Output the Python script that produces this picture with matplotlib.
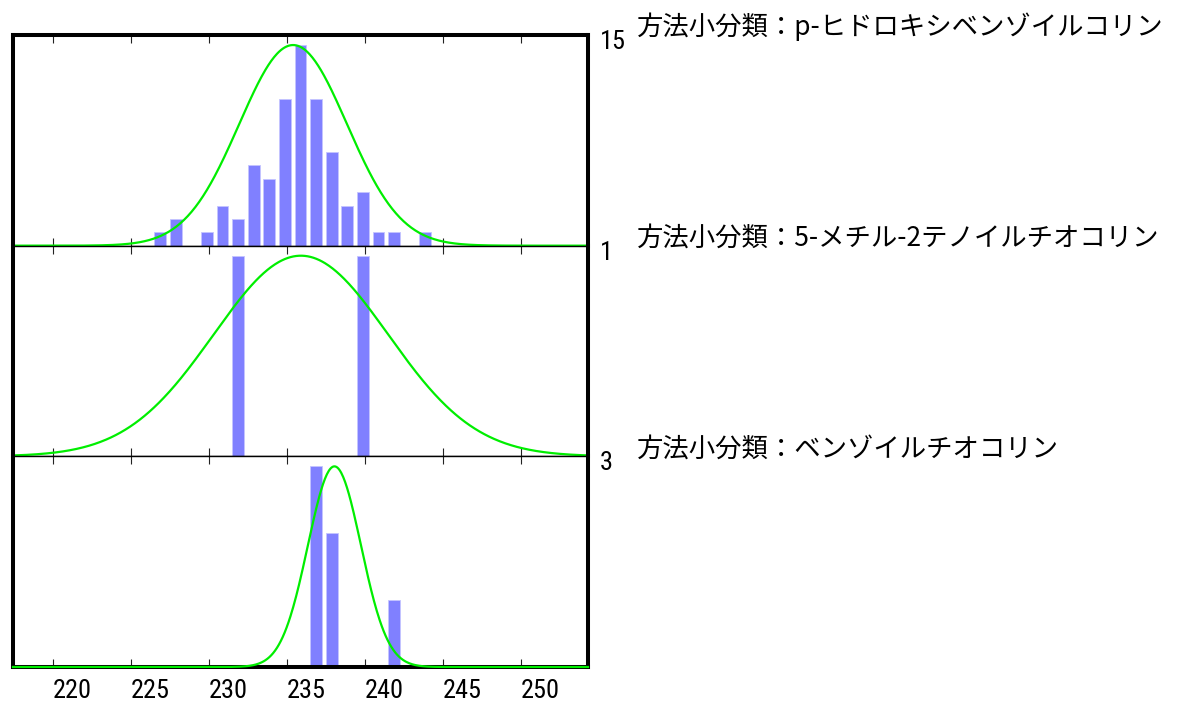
import numpy as np
import matplotlib
matplotlib.use('Agg')
from matplotlib import pyplot as plt
from matplotlib import font_manager

# panel labels (one per method)
labels = ['方法小分類：p-ヒドロキシベンゾイルコリン',
          '方法小分類：5-メチル-2テノイルチオコリン',
          '方法小分類：ベンゾイルチオコリン']

# histogram bins and counts for each panel
bins_top = [227, 228, 230, 231, 232, 233, 234, 235, 236, 237, 238, 239, 240, 241, 242, 244]
counts_top = [1, 2, 1, 3, 2, 6, 5, 11, 15, 11, 7, 3, 4, 1, 1, 1]
bins_mid = [232, 240]
counts_mid = [1, 1]
bins_bot = [237, 238, 242]
counts_bot = [3, 2, 1]

# normal curves drawn over each histogram (mean, sd), peak = max count
fit_mean = [235.4, 235.9, 238.05]
fit_sd = [3.45, 5.6, 1.7]

xticks = [220, 225, 230, 235, 240, 245, 250]
xlim = (217.45, 254.3)

# narrow font for the numbers if one is installed
installed = set(f.name for f in font_manager.fontManager.ttflist)
num_font = 'Liberation Sans'
for name in ['Liberation Sans Narrow', 'Roboto Condensed', 'Open Sans Condensed',
             'DejaVu Sans Condensed']:
    if name in installed:
        num_font = name
        break
jp_font = ['Noto Sans CJK JP', 'DejaVu Sans']

bins = [bins_top, bins_mid, bins_bot]
counts = [counts_top, counts_mid, counts_bot]

fig = plt.figure(figsize=(11.83, 7.06), dpi=100)

W, H = 1183.0, 706.0
left, right = 13 / W, 588 / W
top, bottom = 1 - 35 / H, 1 - 667 / H
ph = (top - bottom) / 3

for i in range(3):
    ax = fig.add_axes([left, top - (i + 1) * ph, right - left, ph])
    ymax = max(counts[i])

    ax.bar(np.array(bins[i]) - 0.5, counts[i], width=0.75, align='edge',
           color='#8080ff', edgecolor='#c4c4ff', linewidth=0.6, zorder=2)

    xs = np.linspace(xlim[0], xlim[1], 600)
    ys = ymax * np.exp(-(xs - fit_mean[i]) ** 2 / (2 * fit_sd[i] ** 2))
    ax.plot(xs, ys, color='#00ee00', linewidth=1.6, zorder=3, clip_on=False)

    ax.set_xlim(*xlim)
    ax.set_ylim(0, ymax * 1.05)
    ax.set_yticks([])
    ax.set_xticks(xticks)
    ax.tick_params(axis='x', direction='in', top=True, bottom=True,
                   length=6, width=0.8, color='#222222')

    for s in ['left', 'right']:
        ax.spines[s].set_linewidth(2.9)
    ax.spines['top'].set_linewidth(2.9 if i == 0 else 1.0)
    ax.spines['bottom'].set_linewidth(2.9 if i == 2 else 1.0)

    if i == 2:
        ax.set_xticklabels([str(t) for t in xticks], ha='left',
                           fontsize=19, family=num_font)
        ax.tick_params(axis='x', pad=9)
    else:
        ax.set_xticklabels([])

    # max count at the top right of each panel
    ax.annotate(str(ymax), xy=(1, 1), xycoords='axes fraction',
                xytext=(12, 5), textcoords='offset pixels',
                ha='left', va='top', fontsize=19, family=num_font)
    # method name
    ax.annotate(labels[i], xy=(1, 1), xycoords='axes fraction',
                xytext=(49, 0), textcoords='offset pixels',
                ha='left', va='baseline', fontsize=19, family=jp_font)

plt.savefig('out.png', dpi=100)
